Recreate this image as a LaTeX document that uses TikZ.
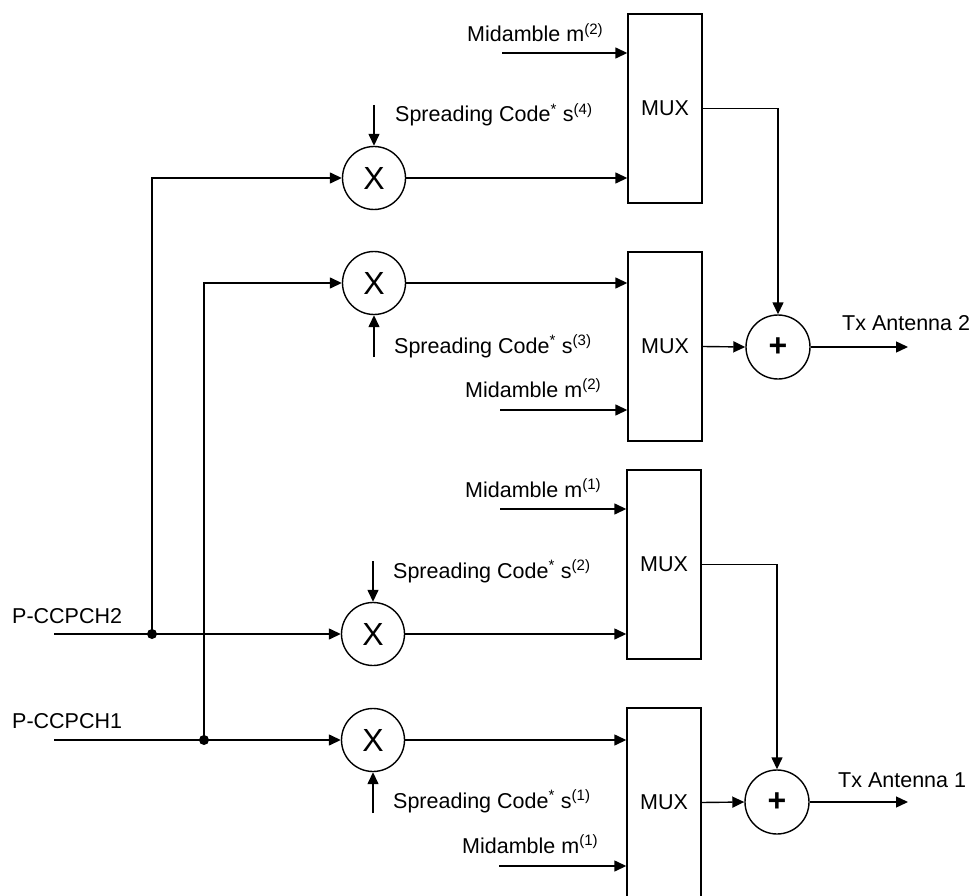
\documentclass[tikz,border=0pt]{standalone}
\usepackage{fontspec}
\setmainfont{Liberation Sans}
\usetikzlibrary{arrows.meta}
\begin{document}
\begin{tikzpicture}[x=1pt,y=-1pt,
  lbl/.style={anchor=base west,inner sep=0pt,font=\fontsize{21.5}{26}\selectfont},
  muxbox/.style={draw,line width=1.4pt,minimum width=74pt,minimum height=189pt,inner sep=0pt,font=\fontsize{21.5}{26}\selectfont},
  mulc/.style={draw,circle,line width=1.4pt,minimum size=63pt,inner sep=0pt,font=\fontsize{32}{32}\selectfont},
  addc/.style={draw,circle,line width=1.4pt,minimum size=64pt,inner sep=0pt,font=\fontsize{32}{32}\selectfont\bfseries},
  arr/.style={line width=1.4pt,-{Triangle[length=12pt,width=11pt]}},
  dotc/.style={fill,circle,inner sep=0pt,minimum size=10pt}]
\useasboundingbox (0,0) rectangle (972,896);

% MUX boxes
\node[muxbox] (mux1) at (665,108.5) {MUX};
\node[muxbox] (mux2) at (665,346.5) {MUX};
\node[muxbox] (mux3) at (664,564.5) {MUX};
\node[muxbox] (mux4) at (664,802.5) {MUX};

% multipliers
\node[mulc] (x1) at (374,178) {X};
\node[mulc] (x2) at (374,283) {X};
\node[mulc] (x3) at (373,634) {X};
\node[mulc] (x4) at (373,740) {X};

% adders
\node[addc] (add2) at (778,347) {+};
\node[addc] (add1) at (777,802) {+};

% input coordinates and junctions
\coordinate (in2) at (54,634);
\coordinate (in1) at (54,740);
\node[dotc] (d2) at (152,634) {};
\node[dotc] (d1) at (204,740) {};

\coordinate (m2a) at (502,53);
\coordinate (m2b) at (500,410);
\coordinate (m1a) at (500,509);
\coordinate (m1b) at (499,866);

\coordinate (s4) at (374,105);
\coordinate (s3) at (374,357);
\coordinate (s2) at (373,561);
\coordinate (s1) at (373,813);

\coordinate (o2) at (908,347);
\coordinate (o1) at (908,802);

% labels
\node[lbl] (t1) at (467,42) {Midamble m\textsuperscript{(2)}};
\node[lbl] (t2) at (395,122) {Spreading Code\textsuperscript{*} s\textsuperscript{(4)}};
\node[lbl] (t3) at (394,353) {Spreading Code\textsuperscript{*} s\textsuperscript{(3)}};
\node[lbl] (t4) at (465,397) {Midamble m\textsuperscript{(2)}};
\node[lbl] (t5) at (465,497) {Midamble m\textsuperscript{(1)}};
\node[lbl] (t6) at (393,578) {Spreading Code\textsuperscript{*} s\textsuperscript{(2)}};
\node[lbl] (t7) at (393,808) {Spreading Code\textsuperscript{*} s\textsuperscript{(1)}};
\node[lbl] (t8) at (462,853) {Midamble m\textsuperscript{(1)}};
\node[lbl] (t9) at (12,623) {P-CCPCH2};
\node[lbl] (t10) at (12,728) {P-CCPCH1};
\node[lbl] (t11) at (842,330) {Tx Antenna 2};
\node[lbl] (t12) at (838,787) {Tx Antenna 1};

% connectors
\draw[arr] (in2) -- (x3);
\draw[arr] (in1) -- (x4);
\draw[arr] (d2.center) |- (x1.west);
\draw[arr] (d1.center) |- (x2.west);

\draw[arr] (x1) -- (x1 -| mux1.west);
\draw[arr] (x2) -- (x2 -| mux2.west);
\draw[arr] (x3) -- (x3 -| mux3.west);
\draw[arr] (x4) -- (x4 -| mux4.west);

\draw[arr] (m2a) -- (m2a -| mux1.west);
\draw[arr] (m2b) -- (m2b -| mux2.west);
\draw[arr] (m1a) -- (m1a -| mux3.west);
\draw[arr] (m1b) -- (m1b -| mux4.west);

\draw[arr] (s4) -- (x1.north);
\draw[arr] (s3) -- (x2.south);
\draw[arr] (s2) -- (x3.north);
\draw[arr] (s1) -- (x4.south);

\draw[arr] (mux1.east) -| (add2.north);
\draw[arr] (mux2.east) -- (add2.west);
\draw[arr] (add2.east) -- (o2);
\draw[arr] (mux3.east) -| (add1.north);
\draw[arr] (mux4.east) -- (add1.west);
\draw[arr] (add1.east) -- (o1);
\end{tikzpicture}
\end{document}
